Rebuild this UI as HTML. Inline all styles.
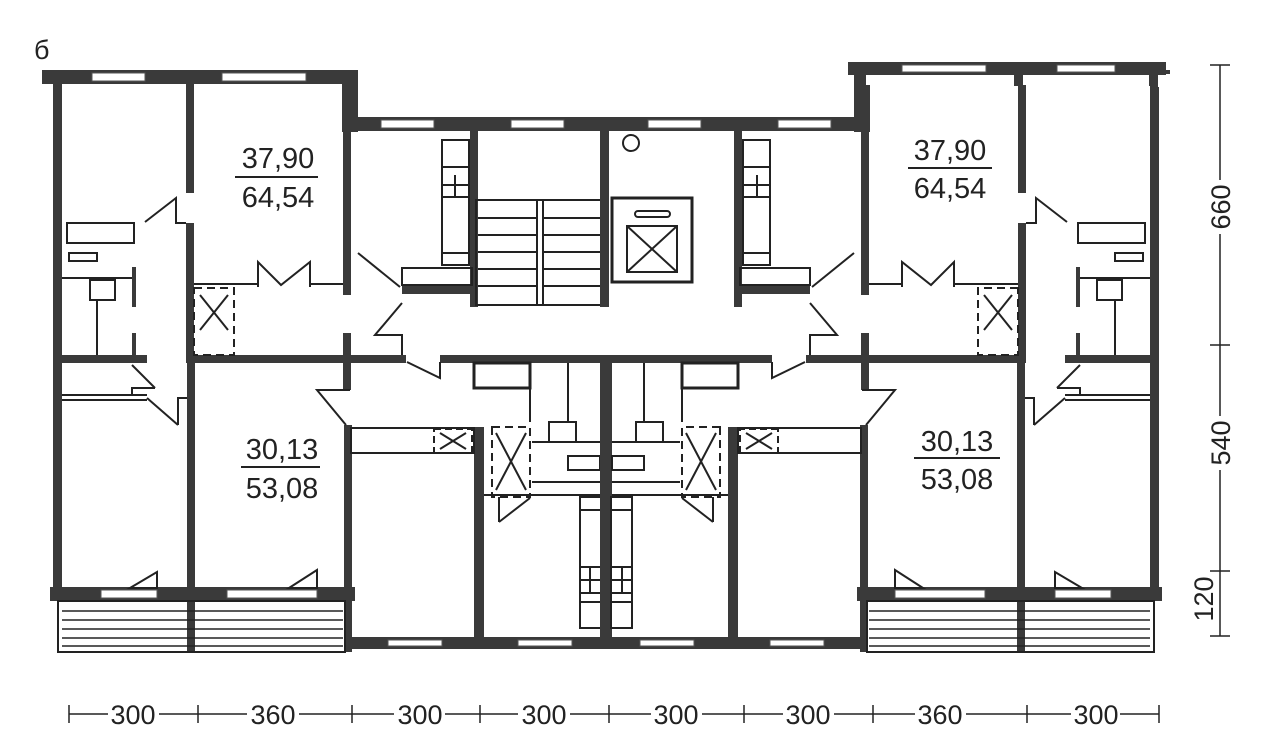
<!DOCTYPE html>
<html><head><meta charset="utf-8"><style>
html,body{margin:0;padding:0;background:#fff;}
svg{display:block;}
text{font-family:"Liberation Sans",sans-serif;fill:#222;}
</style></head><body>
<svg width="1286" height="755" viewBox="0 0 1286 755" xmlns="http://www.w3.org/2000/svg">
<defs>
<g id="half">
  <g fill="#3a3a3a">
    <rect x="42" y="70" width="316" height="14"/>
    <rect x="53" y="70" width="9" height="530"/>
    <rect x="342" y="70" width="16" height="62"/>
    <rect x="342" y="117" width="264" height="14"/>
    <rect x="186" y="84" width="8" height="109"/>
    <rect x="186" y="223" width="8" height="137"/>
    <rect x="187" y="360" width="8" height="230"/>
    <rect x="343" y="131" width="8" height="164"/>
    <rect x="343" y="333" width="8" height="57"/>
    <rect x="344" y="425" width="8" height="227"/>
    <rect x="55" y="355" width="92" height="8"/>
    <rect x="186" y="355" width="220" height="8"/>
    <rect x="440" y="355" width="166" height="8"/>
    <rect x="470" y="131" width="8" height="176"/>
    <rect x="402" y="284" width="70" height="10"/>
    <rect x="600" y="355" width="12" height="285"/>
    <rect x="474" y="427" width="10" height="210"/>
    <rect x="344" y="637" width="268" height="12"/>
    <rect x="50" y="587" width="305" height="14"/>
    <rect x="187" y="601" width="8" height="51"/>
    <rect x="132" y="267" width="4" height="40"/>
    <rect x="132" y="333" width="4" height="22"/>
  </g>
  <g fill="#fff" stroke="#555" stroke-width="1">
    <rect x="92" y="73" width="53" height="8"/>
    <rect x="222" y="73" width="84" height="8"/>
    <rect x="381" y="120" width="53" height="8"/>
    <rect x="511" y="120" width="53" height="8"/>
    <rect x="388" y="640" width="54" height="6"/>
    <rect x="518" y="640" width="54" height="6"/>
    <rect x="101" y="590" width="56" height="8"/>
    <rect x="227" y="590" width="90" height="8"/>
  </g>
  <g fill="none" stroke="#222" stroke-width="2">
    <rect x="58" y="601" width="287" height="51"/>
    <line x1="62" y1="611" x2="343" y2="611" stroke-width="1.5"/>
    <line x1="62" y1="620" x2="343" y2="620" stroke-width="1.5"/>
    <line x1="62" y1="629" x2="343" y2="629" stroke-width="1.5"/>
    <line x1="62" y1="638" x2="343" y2="638" stroke-width="1.5"/>
    <line x1="62" y1="646" x2="343" y2="646" stroke-width="1.5"/>
    <polygon points="130,588 157,572 157,588"/>
    <polygon points="289,588 317,570 317,588"/>
    <line x1="194" y1="284" x2="258" y2="284"/>
    <line x1="310" y1="284" x2="343" y2="284"/>
    <polyline points="258,287 258,262 281,285 310,262 310,287"/>
    <rect x="194" y="288" width="40" height="67" stroke-dasharray="8,5"/>
    <line x1="200" y1="295" x2="228" y2="330"/>
    <line x1="228" y1="295" x2="200" y2="330"/>
    <rect x="67" y="223" width="67" height="20"/>
    <rect x="69" y="253" width="28" height="8"/>
    <line x1="62" y1="278" x2="132" y2="278"/>
    <rect x="90" y="280" width="25" height="20"/>
    <line x1="97" y1="300" x2="97" y2="355"/>
    <polyline points="145,222 176,198 176,223 186,223"/>
    <rect x="442" y="140" width="27" height="125"/>
    <line x1="442" y1="167" x2="469" y2="167"/>
    <line x1="442" y1="197" x2="469" y2="197"/>
    <line x1="455" y1="175" x2="455" y2="197"/>
    <line x1="442" y1="185" x2="469" y2="185"/>
    <line x1="442" y1="253" x2="469" y2="253"/>
    <rect x="402" y="268" width="70" height="17"/>
    <polyline points="358,253 400,287"/>
    <polyline points="402,303 375,335 402,335 402,355"/>
    <polyline points="407,362 440,378 440,362"/>
    <polyline points="350,390 317,390 346,425"/>
    <rect x="351" y="428" width="123" height="25"/>
    <rect x="434" y="429" width="38" height="24" stroke-dasharray="7,4"/>
    <line x1="440" y1="433" x2="466" y2="449"/>
    <line x1="466" y1="433" x2="440" y2="449"/>
    <rect x="492" y="427" width="38" height="70" stroke-dasharray="8,5"/>
    <line x1="496" y1="433" x2="526" y2="490"/>
    <line x1="526" y1="433" x2="496" y2="490"/>
    <line x1="499" y1="522" x2="530" y2="498"/>
    <line x1="499" y1="497" x2="499" y2="522"/>
    <line x1="532" y1="442" x2="600" y2="442"/>
    <line x1="532" y1="482" x2="600" y2="482"/>
    <line x1="484" y1="495" x2="600" y2="495"/>
    <rect x="549" y="422" width="27" height="20"/>
    <rect x="568" y="456" width="32" height="14"/>
    <line x1="568" y1="363" x2="568" y2="422"/>
    <rect x="474" y="363" width="56" height="25" stroke-width="3"/>
    <line x1="530" y1="388" x2="530" y2="422"/>
    <rect x="580" y="497" width="21" height="131"/>
    <line x1="580" y1="510" x2="600" y2="510"/>
    <line x1="580" y1="567" x2="600" y2="567"/>
    <line x1="580" y1="580" x2="600" y2="580"/>
    <line x1="590" y1="567" x2="590" y2="593"/>
    <line x1="580" y1="593" x2="600" y2="593"/>
    <line x1="580" y1="602" x2="600" y2="602"/>
    <line x1="62" y1="395" x2="147" y2="395"/>
    <line x1="62" y1="400" x2="147" y2="400"/>
    <line x1="147" y1="398" x2="178" y2="425"/>
    <polyline points="178,425 178,398 187,398"/>
    <line x1="132" y1="365" x2="155" y2="388"/>
    <polyline points="155,388 132,388 132,395"/>
  </g>
</g>
</defs>

<use href="#half"/>
<use href="#half" transform="translate(1212,0) scale(-1,1)"/>

<g>
  <rect x="866" y="75" width="148" height="10" fill="#fff"/>
  <rect x="1023" y="75" width="126" height="10" fill="#fff"/>
  <rect x="1158" y="74" width="16" height="13" fill="#fff"/>
  <rect x="848" y="62" width="318" height="13" fill="#3a3a3a"/>
  <rect x="854" y="62" width="12" height="70" fill="#3a3a3a"/>
  <rect x="1014" y="62" width="9" height="24" fill="#3a3a3a"/>
  <rect x="1149" y="62" width="9" height="24" fill="#3a3a3a"/>
  <rect x="902" y="65" width="84" height="7" fill="#fff" stroke="#555" stroke-width="1"/>
  <rect x="1057" y="65" width="58" height="7" fill="#fff" stroke="#555" stroke-width="1"/>
</g>

<g fill="none" stroke="#222" stroke-width="2">
  <rect x="476" y="200" width="125" height="105"/>
  <line x1="537" y1="200" x2="537" y2="305"/>
  <line x1="543" y1="200" x2="543" y2="305"/>
  <line x1="478" y1="218" x2="537" y2="218"/><line x1="543" y1="218" x2="600" y2="218"/>
  <line x1="478" y1="235" x2="537" y2="235"/><line x1="543" y1="235" x2="600" y2="235"/>
  <line x1="478" y1="252" x2="537" y2="252"/><line x1="543" y1="252" x2="600" y2="252"/>
  <line x1="478" y1="269" x2="537" y2="269"/><line x1="543" y1="269" x2="600" y2="269"/>
  <line x1="478" y1="286" x2="537" y2="286"/><line x1="543" y1="286" x2="600" y2="286"/>
</g>
<rect x="600" y="131" width="9" height="176" fill="#3a3a3a"/>
<g fill="none" stroke="#222" stroke-width="2">
  <rect x="612" y="198" width="80" height="84" stroke-width="3"/>
  <rect x="627" y="226" width="50" height="46"/>
  <line x1="627" y1="226" x2="677" y2="272"/>
  <line x1="677" y1="226" x2="627" y2="272"/>
  <rect x="635" y="211" width="35" height="6" rx="3"/>
  <circle cx="631" cy="143" r="8"/>
</g>

<text x="278" y="168" font-size="29" text-anchor="middle">37,90</text>
<line x1="235" y1="177" x2="318" y2="177" stroke="#222" stroke-width="2"/>
<text x="278" y="207" font-size="29" text-anchor="middle">64,54</text>
<text x="950" y="160" font-size="29" text-anchor="middle">37,90</text>
<line x1="908" y1="168" x2="992" y2="168" stroke="#222" stroke-width="2"/>
<text x="950" y="198" font-size="29" text-anchor="middle">64,54</text>
<text x="282" y="459" font-size="29" text-anchor="middle">30,13</text>
<line x1="241" y1="467" x2="320" y2="467" stroke="#222" stroke-width="2"/>
<text x="282" y="498" font-size="29" text-anchor="middle">53,08</text>
<text x="957" y="451" font-size="29" text-anchor="middle">30,13</text>
<line x1="914" y1="458" x2="1000" y2="458" stroke="#222" stroke-width="2"/>
<text x="957" y="489" font-size="29" text-anchor="middle">53,08</text>

<text x="34" y="59" font-size="27">б</text>

<g stroke="#222" stroke-width="1.5">
  <line x1="69" y1="714" x2="1159" y2="714"/>
  <line x1="69" y1="705" x2="69" y2="723"/><line x1="198" y1="705" x2="198" y2="723"/>
  <line x1="352" y1="705" x2="352" y2="723"/><line x1="480" y1="705" x2="480" y2="723"/>
  <line x1="609" y1="705" x2="609" y2="723"/><line x1="744" y1="705" x2="744" y2="723"/>
  <line x1="873" y1="705" x2="873" y2="723"/><line x1="1027" y1="705" x2="1027" y2="723"/>
  <line x1="1159" y1="705" x2="1159" y2="723"/>
</g>
<g fill="#fff">
  <rect x="108" y="700" width="51" height="26"/><rect x="247" y="700" width="52" height="26"/>
  <rect x="394" y="700" width="51" height="26"/><rect x="518" y="700" width="52" height="26"/>
  <rect x="651" y="700" width="51" height="26"/><rect x="783" y="700" width="51" height="26"/>
  <rect x="915" y="700" width="51" height="26"/><rect x="1071" y="700" width="49" height="26"/>
</g>
<g font-size="27" text-anchor="middle">
  <text x="133" y="724">300</text><text x="273" y="724">360</text>
  <text x="420" y="724">300</text><text x="544" y="724">300</text>
  <text x="676" y="724">300</text><text x="808" y="724">300</text>
  <text x="940" y="724">360</text><text x="1096" y="724">300</text>
</g>

<g stroke="#222" stroke-width="1.5">
  <line x1="1220" y1="65" x2="1220" y2="636"/>
  <line x1="1210" y1="65" x2="1230" y2="65"/>
  <line x1="1210" y1="345" x2="1230" y2="345"/>
  <line x1="1210" y1="571" x2="1230" y2="571"/>
  <line x1="1210" y1="636" x2="1230" y2="636"/>
</g>
<g fill="#fff">
  <rect x="1206" y="180" width="28" height="54"/>
  <rect x="1206" y="416" width="28" height="54"/>
</g>
<g font-size="27" text-anchor="middle">
  <text transform="translate(1230,207) rotate(-90)">660</text>
  <text transform="translate(1230,443) rotate(-90)">540</text>
  <text transform="translate(1213,599) rotate(-90)">120</text>
</g>
</svg>
</body></html>
